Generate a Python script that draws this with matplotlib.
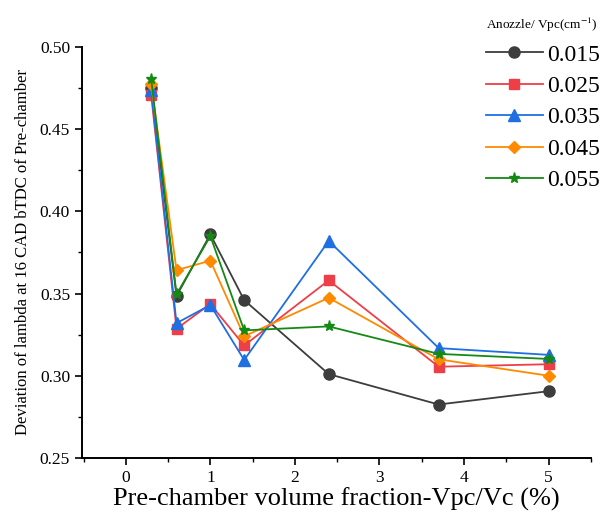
import numpy as np
import matplotlib.pyplot as plt

plt.rcParams['font.family'] = ['Liberation Serif', 'DejaVu Serif']
plt.rcParams['mathtext.fontset'] = 'stix'

# data
vfrac = [0.3, 0.6, 1.0, 1.4, 2.4, 3.7, 5.0]
labels = ['0.015', '0.025', '0.035', '0.045', '0.055']
s015 = [0.475, 0.3485, 0.386, 0.346, 0.301, 0.2825, 0.2906]
s025 = [0.471, 0.3286, 0.3436, 0.3184, 0.358, 0.3055, 0.307]
s035 = [0.4735, 0.332, 0.343, 0.3096, 0.382, 0.3168, 0.3127]
s045 = [0.4776, 0.3642, 0.370, 0.324, 0.3474, 0.310, 0.300]
s055 = [0.4806, 0.3495, 0.3849, 0.3276, 0.330, 0.3133, 0.3102]

series = [s015, s025, s035, s045, s055]
colors = ['#3d3d3d', '#ee3f48', '#1f6fe3', '#ff8a00', '#148a14']
markers = ['o', 's', '^', 'D', '*']
msizes = [8, 7, 8, 6.5, 8]

fig = plt.figure(figsize=(6.06, 5.21), dpi=100)
ax = fig.add_axes([0.135, 0.121, 0.84, 0.789])

for ys, c, m, ms, lab in zip(series, colors, markers, msizes, labels):
    ax.plot(vfrac, ys, color=c, marker=m, markersize=ms, linewidth=1.3, label=lab)

ax.set_xlim(-0.52, 5.5)
ax.set_ylim(0.25, 0.50)
ax.set_xticks([0, 1, 2, 3, 4, 5])
ax.set_yticks([0.25, 0.30, 0.35, 0.40, 0.45, 0.50])
ax.set_yticklabels(['0.25', '0.30', '0.35', '0.40', '0.45', '0.50'])
ax.set_xticks(np.arange(-0.5, 5.6, 0.5), minor=True)
ax.set_yticks(np.arange(0.25, 0.501, 0.025), minor=True)
ax.tick_params(which='major', direction='out', length=5, width=1.2, labelsize=12.5)
ax.tick_params(which='minor', direction='out', length=3, width=1.0)

for side in ['top', 'right']:
    ax.spines[side].set_visible(False)
for side in ['left', 'bottom']:
    ax.spines[side].set_linewidth(1.4)

ax.set_xlabel('Pre-chamber volume fraction-Vpc/Vc (%)', fontsize=19, labelpad=1)
ax.set_ylabel('Deviation of lambda at 16 CAD bTDC of Pre-chamber', fontsize=12, labelpad=6)

leg = ax.legend(loc='upper left', bbox_to_anchor=(0.794, 1.075), frameon=False,
                fontsize=17, handlelength=2.4, handletextpad=0.2, labelspacing=0.42,
                borderpad=0, title='Anozzle/ Vpc(cm$^{-1}$)', title_fontsize=9.5,
                borderaxespad=0)
leg._legend_box.align = 'left'

fig.savefig('out.png', dpi=100)
